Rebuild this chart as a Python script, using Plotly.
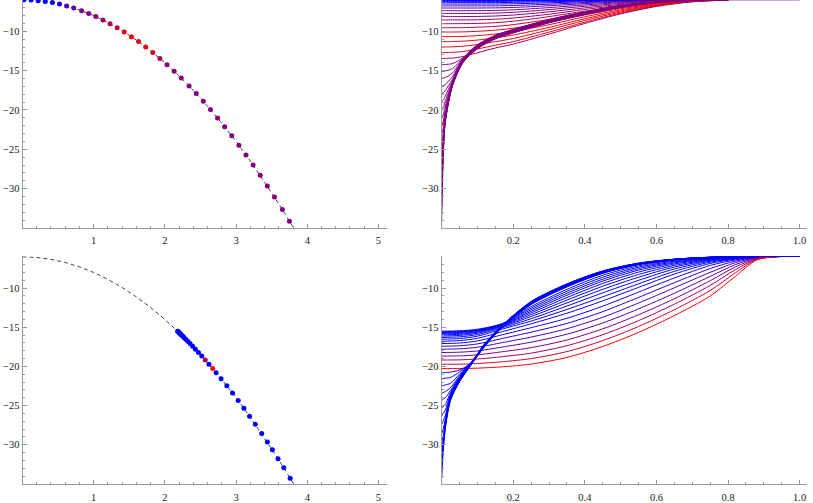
"""Four-panel flow plot: dots on a parabola (left) and the matching
trajectories (right), blue -> red colour blend as in the original."""

import plotly.graph_objects as go

# ---------------------------------------------------------------- data
# dashed parabola drawn in both left panels
CURVE_X = [0.0, 0.2, 0.4, 0.6, 0.8, 1.0, 1.2, 1.4, 1.6, 1.8, 2.0, 2.2, 2.4,
           2.6, 2.8, 3.0, 3.2, 3.4, 3.6, 3.8, 3.85]
CURVE_Y = [-6.0, -6.08, -6.32, -6.72, -7.28, -8.0, -8.88, -9.92, -11.12,
           -12.48, -14.0, -15.68, -17.52, -19.52, -21.68, -24.0, -26.48,
           -29.12, -31.92, -34.88, -35.65]

# top-left dots (one per trajectory in the top-right panel)
TL_DOT_X = [0.02, 0.12, 0.22, 0.32, 0.42, 0.52, 0.62, 0.72, 0.83, 0.93,
            1.03, 1.13, 1.23, 1.33, 1.43, 1.53, 1.63, 1.73, 1.83, 1.93,
            2.03, 2.13, 2.23, 2.34, 2.44, 2.54, 2.64, 2.74, 2.84, 2.94,
            3.04, 3.14, 3.24, 3.34, 3.44, 3.54, 3.65, 3.75]
TL_DOT_Y = [-6.0, -6.03, -6.1, -6.2, -6.35, -6.54, -6.77, -7.04, -7.38,
            -7.73, -8.12, -8.55, -9.03, -9.54, -10.09, -10.68, -11.31,
            -11.99, -12.7, -13.45, -14.24, -15.07, -15.95, -16.95, -17.91,
            -18.9, -19.94, -21.02, -22.13, -23.29, -24.48, -25.72, -27.0,
            -28.31, -29.67, -31.06, -32.65, -34.13]
# blend parameter: 0 = blue, 1 = red
TL_DOT_T = [0.0, 0.0, 0.0, 0.03, 0.06, 0.1, 0.25, 0.35, 0.45, 0.5, 0.52,
            0.6, 0.7, 0.8, 0.9, 0.95, 0.95, 0.92, 0.85, 0.65, 0.5, 0.5,
            0.5, 0.5, 0.5, 0.5, 0.5, 0.5, 0.5, 0.5, 0.5, 0.5, 0.5, 0.5,
            0.5, 0.5, 0.5, 0.5]

# top-right trajectories, sampled on a shared x grid
TR_X = [0.0, 0.004, 0.01, 0.03, 0.06, 0.1, 0.15, 0.2, 0.3, 0.4, 0.5, 0.6,
        0.7, 0.8]
TR_CURVES = [
    [-6.0, -6.0, -6.0, -6.0, -6.0, -6.0, -6.0, -6.0, -6.0, -6.0, -6.0, -6.0, -6.0, -6.0],
    [-6.03, -6.03, -6.03, -6.03, -6.03, -6.03, -6.03, -6.03, -6.02, -6.01, -6.0, -6.0, -6.0, -6.0],
    [-6.1, -6.1, -6.1, -6.1, -6.1, -6.1, -6.1, -6.09, -6.07, -6.04, -6.02, -6.0, -6.0, -6.0],
    [-6.2, -6.2, -6.2, -6.2, -6.2, -6.2, -6.2, -6.18, -6.14, -6.08, -6.04, -6.01, -6.0, -6.0],
    [-6.35, -6.35, -6.35, -6.35, -6.35, -6.35, -6.35, -6.32, -6.24, -6.15, -6.07, -6.02, -6.0, -6.0],
    [-6.54, -6.54, -6.54, -6.54, -6.54, -6.54, -6.53, -6.5, -6.38, -6.24, -6.12, -6.04, -6.0, -6.0],
    [-6.77, -6.77, -6.77, -6.77, -6.77, -6.77, -6.76, -6.72, -6.55, -6.35, -6.18, -6.07, -6.01, -6.0],
    [-7.04, -7.04, -7.04, -7.04, -7.04, -7.04, -7.02, -6.97, -6.75, -6.48, -6.26, -6.1, -6.02, -6.0],
    [-7.38, -7.38, -7.38, -7.38, -7.38, -7.37, -7.34, -7.27, -6.99, -6.64, -6.36, -6.14, -6.03, -6.0],
    [-7.73, -7.73, -7.73, -7.73, -7.73, -7.72, -7.68, -7.59, -7.24, -6.82, -6.46, -6.19, -6.05, -6.0],
    [-8.12, -8.12, -8.12, -8.12, -8.12, -8.11, -8.05, -7.93, -7.52, -7.02, -6.58, -6.25, -6.07, -6.0],
    [-8.55, -8.55, -8.55, -8.55, -8.55, -8.53, -8.46, -8.31, -7.83, -7.22, -6.71, -6.32, -6.09, -6.01],
    [-9.03, -9.03, -9.03, -9.03, -9.02, -9.0, -8.9, -8.72, -8.13, -7.44, -6.85, -6.39, -6.11, -6.01],
    [-9.54, -9.54, -9.54, -9.54, -9.53, -9.48, -9.37, -9.15, -8.48, -7.67, -6.99, -6.46, -6.13, -6.01],
    [-10.09, -10.09, -10.09, -10.09, -10.07, -10.0, -9.85, -9.6, -8.85, -7.92, -7.13, -6.53, -6.15, -6.02],
    [-10.68, -10.68, -10.68, -10.67, -10.64, -10.55, -10.34, -10.03, -9.16, -8.15, -7.28, -6.6, -6.17, -6.02],
    [-11.31, -11.31, -11.31, -11.3, -11.25, -11.11, -10.83, -10.47, -9.5, -8.4, -7.42, -6.67, -6.19, -6.02],
    [-11.99, -11.99, -11.99, -11.97, -11.89, -11.68, -11.32, -10.91, -9.8, -8.62, -7.55, -6.73, -6.21, -6.02],
    [-12.7, -12.7, -12.7, -12.67, -12.56, -12.24, -11.77, -11.31, -10.1, -8.84, -7.68, -6.79, -6.23, -6.03],
    [-13.45, -13.45, -13.44, -13.4, -13.2, -12.72, -12.12, -11.62, -10.35, -9.0, -7.78, -6.84, -6.25, -6.03],
    [-14.24, -14.24, -14.22, -14.1, -13.35, -11.7, -10.5, -9.75, -8.5, -7.52, -6.72, -6.22, -6.04, -6.0],
    [-15.07, -15.07, -15.04, -14.75, -13.4, -11.73, -10.53, -9.78, -8.53, -7.54, -6.74, -6.23, -6.04, -6.0],
    [-15.95, -15.94, -15.88, -15.3, -13.45, -11.76, -10.56, -9.8, -8.55, -7.56, -6.75, -6.23, -6.04, -6.0],
    [-16.95, -16.92, -16.75, -15.75, -13.5, -11.79, -10.59, -9.83, -8.58, -7.58, -6.77, -6.24, -6.05, -6.0],
    [-17.91, -17.84, -17.55, -16.1, -13.54, -11.82, -10.62, -9.86, -8.6, -7.6, -6.78, -6.25, -6.05, -6.0],
    [-18.9, -18.78, -18.25, -16.3, -13.58, -11.85, -10.64, -9.88, -8.63, -7.62, -6.8, -6.25, -6.05, -6.0],
    [-19.94, -19.72, -18.9, -16.45, -13.62, -11.88, -10.67, -9.91, -8.65, -7.64, -6.81, -6.26, -6.05, -6.0],
    [-21.02, -20.65, -19.5, -16.55, -13.65, -11.91, -10.7, -9.94, -8.68, -7.66, -6.83, -6.27, -6.06, -6.0],
    [-22.13, -21.5, -20.0, -16.62, -13.68, -11.94, -10.72, -9.96, -8.7, -7.68, -6.84, -6.27, -6.06, -6.0],
    [-23.29, -22.35, -20.4, -16.68, -13.71, -11.97, -10.75, -9.99, -8.72, -7.7, -6.86, -6.28, -6.06, -6.0],
    [-24.48, -23.1, -20.7, -16.72, -13.74, -12.0, -10.78, -10.02, -8.75, -7.72, -6.87, -6.29, -6.06, -6.0],
    [-25.72, -23.8, -20.9, -16.76, -13.77, -12.03, -10.8, -10.04, -8.77, -7.74, -6.89, -6.29, -6.07, -6.0],
    [-27.0, -24.4, -21.05, -16.8, -13.8, -12.06, -10.83, -10.07, -8.8, -7.76, -6.9, -6.3, -6.07, -6.0],
    [-28.31, -24.9, -21.2, -16.83, -13.83, -12.09, -10.86, -10.1, -8.82, -7.78, -6.92, -6.31, -6.07, -6.0],
    [-29.67, -25.3, -21.3, -16.86, -13.86, -12.12, -10.88, -10.12, -8.85, -7.8, -6.93, -6.31, -6.07, -6.0],
    [-31.06, -25.7, -21.4, -16.89, -13.89, -12.15, -10.91, -10.15, -8.87, -7.82, -6.95, -6.32, -6.08, -6.0],
    [-32.65, -26.0, -21.5, -16.92, -13.92, -12.18, -10.94, -10.18, -8.9, -7.84, -6.96, -6.33, -6.08, -6.0],
    [-34.13, -26.3, -21.6, -16.95, -13.95, -12.21, -10.96, -10.2, -8.92, -7.86, -6.98, -6.33, -6.08, -6.0],
]
# the single trajectory that runs on along the top edge
TR_TAIL_X = [0.75, 1.0]
TR_TAIL_Y = [-6.0, -6.0]

# bottom-left dots
BL_DOT_X = [2.179, 2.189, 2.198, 2.208, 2.219, 2.233, 2.249, 2.269, 2.293,
            2.322, 2.354, 2.39, 2.429, 2.472, 2.518, 2.567, 2.619, 2.672,
            2.72, 2.79, 2.87, 2.95, 3.03, 3.11, 3.19, 3.27, 3.36, 3.44,
            3.51, 3.59, 3.67, 3.76]
BL_DOT_Y = [-15.5, -15.58, -15.66, -15.75, -15.85, -15.97, -16.12, -16.3,
            -16.52, -16.78, -17.08, -17.42, -17.8, -18.22, -18.68, -19.18,
            -19.72, -20.28, -20.8, -21.57, -22.47, -23.41, -24.36, -25.34,
            -26.35, -27.39, -28.58, -29.67, -30.64, -31.78, -32.94, -34.28]
BL_DOT_T = [0.0] * 15 + [0.65, 0.0, 1.0] + [0.0] * 14

# bottom-right: trajectories that start flat (one per first 18 dots)
BR_FLAT_X = [0.0, 0.05, 0.1, 0.17, 0.25, 0.35, 0.45, 0.55, 0.65, 0.75, 0.82,
             0.88, 0.94, 1.0]
BR_FLAT_CURVES = [
    [-15.5, -15.45, -15.25, -14.5, -12.35, -10.15, -8.35, -7.15, -6.45, -6.12, -6.0, -5.96, -5.95, -5.95],
    [-15.58, -15.52, -15.32, -14.56, -12.55, -10.4, -8.6, -7.32, -6.55, -6.16, -6.02, -5.96, -5.95, -5.95],
    [-15.66, -15.6, -15.38, -14.62, -12.75, -10.65, -8.85, -7.5, -6.66, -6.2, -6.03, -5.97, -5.95, -5.95],
    [-15.75, -15.68, -15.45, -14.68, -12.95, -10.9, -9.1, -7.7, -6.78, -6.25, -6.05, -5.97, -5.95, -5.95],
    [-15.85, -15.78, -15.53, -14.74, -13.15, -11.2, -9.4, -7.95, -6.92, -6.3, -6.07, -5.98, -5.95, -5.95],
    [-15.97, -15.9, -15.63, -14.82, -13.38, -11.52, -9.75, -8.25, -7.1, -6.37, -6.1, -5.98, -5.95, -5.95],
    [-16.12, -16.04, -15.76, -14.92, -13.62, -11.88, -10.15, -8.6, -7.3, -6.45, -6.14, -5.99, -5.95, -5.95],
    [-16.3, -16.22, -15.93, -15.05, -13.9, -12.28, -10.6, -9.0, -7.55, -6.55, -6.19, -6.0, -5.95, -5.95],
    [-16.52, -16.44, -16.13, -15.22, -14.2, -12.72, -11.1, -9.45, -7.85, -6.68, -6.25, -6.02, -5.95, -5.95],
    [-16.78, -16.7, -16.4, -15.55, -14.55, -13.2, -11.62, -9.9, -8.2, -6.85, -6.3, -6.03, -5.96, -5.95],
    [-17.08, -17.01, -16.74, -15.95, -15.05, -13.85, -12.3, -10.5, -8.7, -7.1, -6.4, -6.05, -5.96, -5.95],
    [-17.42, -17.36, -17.12, -16.42, -15.62, -14.5, -13.0, -11.18, -9.3, -7.5, -6.55, -6.08, -5.96, -5.95],
    [-17.8, -17.75, -17.55, -16.95, -16.25, -15.18, -13.72, -11.9, -9.95, -7.98, -6.75, -6.12, -5.97, -5.95],
    [-18.22, -18.18, -18.02, -17.52, -16.9, -15.88, -14.45, -12.65, -10.65, -8.5, -7.0, -6.17, -5.97, -5.95],
    [-18.68, -18.65, -18.52, -18.12, -17.6, -16.62, -15.2, -13.4, -11.35, -9.05, -7.3, -6.23, -5.97, -5.95],
    [-19.18, -19.16, -19.05, -18.75, -18.3, -17.35, -15.95, -14.15, -12.05, -9.65, -7.65, -6.28, -5.97, -5.95],
    [-19.72, -19.71, -19.63, -19.4, -19.0, -18.1, -16.7, -14.9, -12.75, -10.3, -8.05, -6.34, -5.97, -5.95],
    [-20.28, -20.27, -20.22, -20.05, -19.7, -18.85, -17.45, -15.65, -13.5, -11.0, -8.5, -6.4, -5.97, -5.95],
]
BR_FLAT_T = [0.0, 0.0, 0.0, 0.0, 0.0, 0.0, 0.0, 0.0, 0.0, 0.03, 0.08, 0.15,
             0.25, 0.35, 0.5, 0.65, 0.82, 1.0]

# bottom-right: trajectories that shoot up from deep starts (last 14 dots)
BR_DEEP_X = [0.0, 0.004, 0.01, 0.025, 0.05, 0.08, 0.12, 0.17, 0.25, 0.35,
             0.45, 0.55, 0.65, 0.75, 0.82, 0.88, 0.94, 1.0]
BR_DEEP_CURVES = [
    [-20.8, -20.8, -20.78, -20.72, -20.45, -19.6, -17.1, -14.7, -11.7, -9.45, -7.8, -6.8, -6.3, -6.05, -5.97, -5.95, -5.95, -5.95],
    [-21.57, -21.56, -21.5, -21.4, -20.7, -19.62, -17.13, -14.72, -11.73, -9.48, -7.82, -6.82, -6.31, -6.05, -5.97, -5.95, -5.95, -5.95],
    [-22.47, -22.45, -22.35, -22.15, -20.98, -19.65, -17.16, -14.74, -11.76, -9.51, -7.85, -6.83, -6.31, -6.05, -5.97, -5.95, -5.95, -5.95],
    [-23.41, -23.35, -23.2, -22.7, -21.18, -19.68, -17.18, -14.76, -11.79, -9.54, -7.87, -6.85, -6.32, -6.06, -5.97, -5.95, -5.95, -5.95],
    [-24.36, -24.2, -24.0, -23.05, -21.33, -19.71, -17.21, -14.78, -11.82, -9.57, -7.9, -6.86, -6.32, -6.06, -5.97, -5.95, -5.95, -5.95],
    [-25.34, -25.1, -24.85, -23.3, -21.45, -19.74, -17.24, -14.8, -11.85, -9.6, -7.92, -6.88, -6.33, -6.06, -5.97, -5.95, -5.95, -5.95],
    [-26.35, -26.0, -25.6, -23.5, -21.55, -19.77, -17.26, -14.82, -11.88, -9.63, -7.95, -6.89, -6.34, -6.06, -5.97, -5.95, -5.95, -5.95],
    [-27.39, -27.0, -26.3, -23.65, -21.62, -19.8, -17.29, -14.84, -11.91, -9.66, -7.97, -6.9, -6.34, -6.07, -5.97, -5.95, -5.95, -5.95],
    [-28.58, -28.0, -26.75, -23.78, -21.7, -19.82, -17.32, -14.86, -11.94, -9.69, -8.0, -6.92, -6.35, -6.07, -5.98, -5.95, -5.95, -5.95],
    [-29.67, -28.9, -27.1, -23.9, -21.75, -19.85, -17.35, -14.88, -11.97, -9.72, -8.02, -6.93, -6.36, -6.07, -5.98, -5.95, -5.95, -5.95],
    [-30.64, -29.5, -27.35, -24.0, -21.8, -19.87, -17.37, -14.9, -12.0, -9.75, -8.04, -6.94, -6.36, -6.07, -5.98, -5.95, -5.95, -5.95],
    [-31.78, -30.0, -27.6, -24.1, -21.85, -19.9, -17.4, -14.92, -12.03, -9.78, -8.06, -6.96, -6.37, -6.08, -5.98, -5.95, -5.95, -5.95],
    [-32.94, -30.5, -27.8, -24.2, -21.9, -19.92, -17.42, -14.94, -12.06, -9.81, -8.08, -6.97, -6.37, -6.08, -5.98, -5.95, -5.95, -5.95],
    [-34.28, -31.0, -28.0, -24.3, -21.95, -19.95, -17.45, -14.96, -12.09, -9.84, -8.1, -6.98, -6.38, -6.08, -5.98, -5.95, -5.95, -5.95],
]

LEFT_X_TICKS = [1, 2, 3, 4, 5]
RIGHT_X_TICKS = [0.2, 0.4, 0.6, 0.8, 1.0]
Y_TICKS = [-30, -25, -20, -15, -10]

# ---------------------------------------------------------------- style
AXIS_GREY = "#9a9a9a"
SERIF = "Liberation Serif"
TICK_FONT = dict(family=SERIF, size=10.5, color="#222222")
W, H = 813, 503


def blend(t):
    """Mathematica-style Blend[{Blue, Red}, t]."""
    return f"rgb({round(255 * t)},0,{round(255 * (1 - t))})"


def x_axis(left_px, right_px, rng, ticks, minor_step, anchor, fmt=""):
    return dict(
        domain=[left_px / W, right_px / W], range=rng, anchor=anchor,
        showline=True, linecolor=AXIS_GREY, linewidth=1,
        ticks="inside", ticklen=4, tickwidth=1, tickcolor=AXIS_GREY,
        tickmode="array", tickvals=ticks, tickformat=fmt, tickfont=TICK_FONT,
        ticklabelstandoff=3,
        minor=dict(ticks="inside", ticklen=2, tickcolor=AXIS_GREY,
                   tickmode="linear", tick0=0, dtick=minor_step,
                   showgrid=False),
        showgrid=False, zeroline=False, fixedrange=True,
    )


def y_axis(top_px, bottom_px, rng, anchor):
    return dict(
        domain=[1 - bottom_px / H, 1 - top_px / H], range=rng, anchor=anchor,
        showline=True, linecolor=AXIS_GREY, linewidth=1,
        ticks="inside", ticklen=4, tickwidth=1, tickcolor=AXIS_GREY,
        tickmode="array", tickvals=Y_TICKS, tickfont=TICK_FONT,
        minor=dict(ticks="inside", ticklen=2, tickcolor=AXIS_GREY,
                   tickmode="linear", tick0=0, dtick=1, showgrid=False),
        showgrid=False, zeroline=False, fixedrange=True,
    )


fig = go.Figure()


def add_parabola(xa, ya):
    fig.add_trace(go.Scatter(
        x=CURVE_X, y=CURVE_Y, mode="lines", xaxis=xa, yaxis=ya,
        line=dict(color="#444444", width=1, dash="4px,3px"),
    ))


def add_dots(xs, ys, ts, xa, ya):
    fig.add_trace(go.Scatter(
        x=xs, y=ys, mode="markers", xaxis=xa, yaxis=ya,
        marker=dict(size=5, color=[blend(t) for t in ts], line_width=0),
    ))


def add_curve(xs, ys, t, xa, ya):
    fig.add_trace(go.Scatter(
        x=xs, y=ys, mode="lines", xaxis=xa, yaxis=ya,
        line=dict(color=blend(t), width=1, shape="spline", smoothing=0.8),
    ))


# top-left
add_parabola("x", "y")
add_dots(TL_DOT_X, TL_DOT_Y, TL_DOT_T, "x", "y")

# top-right
for row, t in zip(TR_CURVES, TL_DOT_T):
    add_curve(TR_X, row, t, "x2", "y2")
fig.add_trace(go.Scatter(
    x=TR_TAIL_X, y=TR_TAIL_Y, mode="lines", xaxis="x2", yaxis="y2",
    line=dict(color=blend(0.5), width=1),
))

# bottom-left
add_parabola("x3", "y3")
add_dots(BL_DOT_X, BL_DOT_Y, BL_DOT_T, "x3", "y3")

# bottom-right
for row, t in zip(BR_FLAT_CURVES, BR_FLAT_T):
    add_curve(BR_FLAT_X, row, t, "x4", "y4")
for row in BR_DEEP_CURVES:
    add_curve(BR_DEEP_X, row, 0.0, "x4", "y4")

fig.update_layout(
    width=W, height=H, margin=dict(l=0, r=0, t=0, b=0),
    paper_bgcolor="white", plot_bgcolor="white", showlegend=False,
    xaxis=x_axis(22.5, 386.7, [0, 5.116], LEFT_X_TICKS, 0.2, "y"),
    yaxis=y_axis(0, 230.5, [-34.97, -6.02], "x"),
    xaxis2=x_axis(441.7, 806.7, [0, 1.0196], RIGHT_X_TICKS, 0.05, "y2", ".1f"),
    yaxis2=y_axis(0, 230.5, [-34.97, -6.02], "x2"),
    xaxis3=x_axis(22.5, 386.7, [0, 5.116], LEFT_X_TICKS, 0.2, "y3"),
    yaxis3=y_axis(259.3, 490, [-35.04, -5.92], "x3"),
    xaxis4=x_axis(441.7, 806.7, [0, 1.0196], RIGHT_X_TICKS, 0.05, "y4", ".1f"),
    yaxis4=y_axis(259.3, 490, [-35.04, -5.92], "x4"),
)

# the page body has a default 8px margin; drop it so the figure sits at 0,0
fig.write_html("out.html", config={"displayModeBar": False},
               post_script="document.body.style.margin = '0';")
